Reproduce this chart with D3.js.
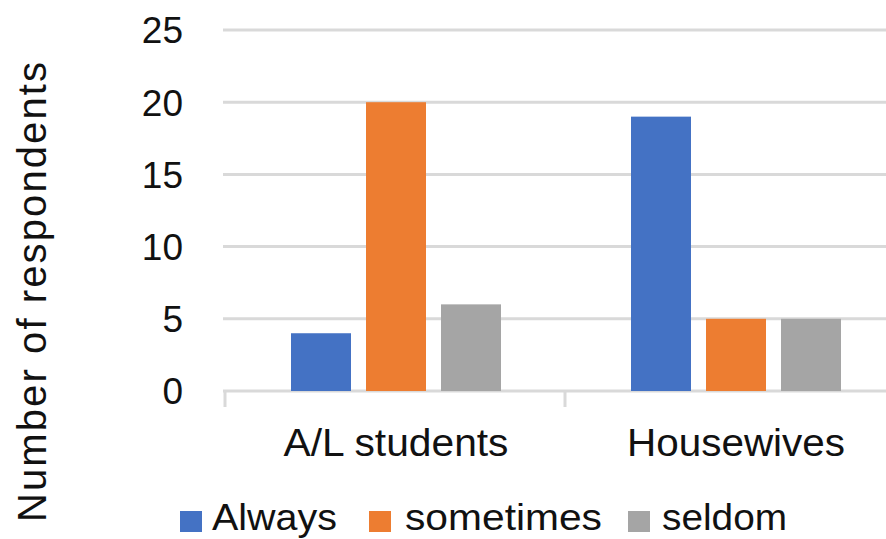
<!DOCTYPE html>
<html>
<head>
<meta charset="utf-8">
<script src="https://cdn.jsdelivr.net/npm/d3@7"></script>
<style>
  body { margin: 0; background: #fff; }
  svg { display: block; font-family: "Liberation Sans", Arial, sans-serif; }
</style>
</head>
<body>
<svg id="chart"></svg>
<script>
const WIDTH = 886, HEIGHT = 539;

// data
const categories = ["A/L students", "Housewives"];
const series = ["Always", "sometimes", "seldom"];
const always = [4, 19];
const sometimes = [20, 5];
const seldom = [6, 5];
const yTicks = [0, 5, 10, 15, 20, 25];
const colors = ["#4472c4", "#ed7d31", "#a5a5a5"];

const values = [always, sometimes, seldom];
const rows = categories.map((c, i) => ({
    category: c,
    bars: series.map((s, j) => ({ key: s, value: values[j][i] }))
}));

const svg = d3.select("#chart")
    .attr("width", WIDTH)
    .attr("height", HEIGHT);

const plotLeft = 223, plotRight = 886;

const y = d3.scaleLinear()
    .domain([0, 25])
    .range([391, 30]);

const x0 = d3.scaleBand()
    .domain(categories)
    .range([225, 905]);

const x1 = d3.scaleBand()
    .domain(series)
    .range([66, 276])
    .paddingInner(0.2);

const color = d3.scaleOrdinal().domain(series).range(colors);

// gridlines
svg.append("g")
    .selectAll("line")
    .data(yTicks)
    .join("line")
        .attr("x1", plotLeft)
        .attr("x2", plotRight)
        .attr("y1", d => y(d))
        .attr("y2", d => y(d))
        .attr("stroke", "#d9d9d9")
        .attr("stroke-width", 3);

// y tick labels
svg.append("g")
    .selectAll("text")
    .data(yTicks)
    .join("text")
        .attr("x", 183)
        .attr("y", d => y(d))
        .attr("dy", "0.36em")
        .attr("text-anchor", "end")
        .attr("font-size", 37)
        .attr("fill", "#111")
        .text(d => d);

// x axis ticks at band boundaries
const boundaries = [...categories.map(c => x0(c)), x0(categories[categories.length - 1]) + x0.bandwidth()];
svg.append("g")
    .selectAll("line")
    .data(boundaries)
    .join("line")
        .attr("x1", d => d)
        .attr("x2", d => d)
        .attr("y1", y(0))
        .attr("y2", y(0) + 16)
        .attr("stroke", "#d9d9d9")
        .attr("stroke-width", 3);

// bars
const groups = svg.append("g")
    .selectAll("g")
    .data(rows)
    .join("g")
        .attr("transform", d => `translate(${x0(d.category)},0)`);

groups.selectAll("rect")
    .data(d => d.bars)
    .join("rect")
        .attr("x", d => x1(d.key))
        .attr("width", x1.bandwidth())
        .attr("y", d => y(d.value))
        .attr("height", d => y(0) - y(d.value))
        .attr("fill", d => color(d.key));

// category labels
const catWidths = [225, 218];
svg.append("g")
    .selectAll("text")
    .data(categories)
    .join("text")
        .attr("x", d => x0(d) + x0.bandwidth() / 2 + 1)
        .attr("y", 456)
        .attr("text-anchor", "middle")
        .attr("font-size", 38)
        .attr("fill", "#111")
        .attr("textLength", (d, i) => catWidths[i])
        .attr("lengthAdjust", "spacingAndGlyphs")
        .text(d => d);

// y title
svg.append("text")
    .attr("transform", "translate(46,292) rotate(-90)")
    .attr("text-anchor", "middle")
    .attr("font-size", 40)
    .attr("fill", "#111")
    .attr("textLength", 460)
    .attr("lengthAdjust", "spacing")
    .text("Number of respondents");

// legend
const legendItems = [
    { key: "Always", sx: 180, tx: 212, tw: 125 },
    { key: "sometimes", sx: 369, tx: 405, tw: 197 },
    { key: "seldom", sx: 628, tx: 662, tw: 125 }
];
const legend = svg.append("g");
legend.selectAll("rect")
    .data(legendItems)
    .join("rect")
        .attr("x", d => d.sx)
        .attr("y", 511)
        .attr("width", 22)
        .attr("height", 21)
        .attr("fill", d => color(d.key));
legend.selectAll("text")
    .data(legendItems)
    .join("text")
        .attr("x", d => d.tx)
        .attr("y", 530)
        .attr("font-size", 36)
        .attr("fill", "#111")
        .attr("textLength", d => d.tw)
        .attr("lengthAdjust", "spacingAndGlyphs")
        .text(d => d.key);
</script>
</body>
</html>
